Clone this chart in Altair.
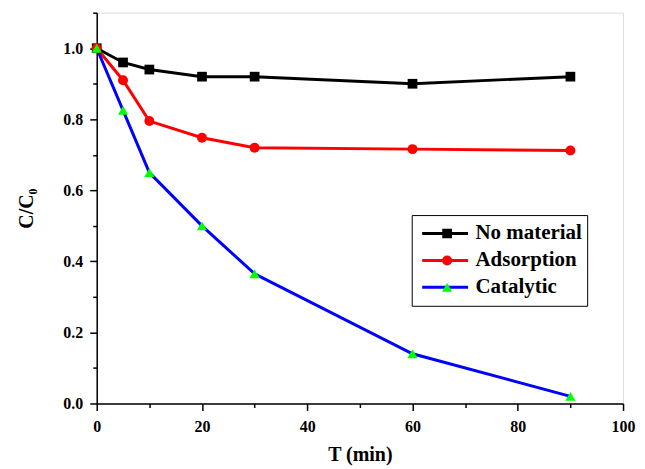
import altair as alt
import pandas as pd

time_min = [0, 5, 10, 20, 30, 60, 90]
no_material = [1.0, 0.96, 0.94, 0.92, 0.92, 0.90, 0.92]
adsorption = [1.0, 0.91, 0.795, 0.748, 0.72, 0.716, 0.712]
catalytic = [1.0, 0.825, 0.65, 0.50, 0.365, 0.14, 0.02]

series_names = ["No material", "Adsorption", "Catalytic"]
line_colors = ["#000000", "#ff0000", "#0000ff"]
marker_colors = ["#000000", "#ff0000", "#00ff00"]
marker_shapes = ["square", "circle", "triangle-up"]
marker_sizes = [95, 105, 185]

x_major = [0, 20, 40, 60, 80, 100]
x_minor = [10, 30, 50, 70, 90]
y_major = [0.0, 0.2, 0.4, 0.6, 0.8, 1.0]
y_minor = [0.1, 0.3, 0.5, 0.7, 0.9, 1.1]

# marker series keys are distinct from line keys so the two legends stay separate
marker_keys = [n + " " for n in series_names]

rows = []
for name, key, vals in zip(series_names, marker_keys, [no_material, adsorption, catalytic]):
    for t, c in zip(time_min, vals):
        rows.append({"T": t, "C": c, "series": name, "series_m": key})
df = pd.DataFrame(rows)

FONT = "Liberation Serif, Times New Roman, serif"

x_scale = alt.Scale(domain=[0, 100], nice=False, zero=False)
y_scale = alt.Scale(domain=[0, 1.1], nice=False, zero=False)

axis_common = dict(
    grid=False, domainColor="black", domainWidth=1.5, tickColor="black",
    tickWidth=1.5, labelFont=FONT, labelFontSize=16, labelFontWeight="bold",
    labelColor="black", titleFont=FONT, titleFontSize=20, titleFontWeight="bold",
    titleColor="black", labelFlush=False, labelOverlap=False,
)

x_major_axis = alt.Axis(values=x_major, format="d", tickSize=7, labelPadding=8,
                        title="T (min)", titlePadding=10, orient="bottom", **axis_common)
y_major_axis = alt.Axis(values=y_major, format=".1f", tickSize=7, labelPadding=7,
                        title="C/C₀", titlePadding=26, orient="left", **axis_common)
x_minor_axis = alt.Axis(values=x_minor, tickSize=4, labels=False, domain=False,
                        title=None, orient="bottom", grid=False, tickColor="black", tickWidth=1.5)
y_minor_axis = alt.Axis(values=y_minor, tickSize=4, labels=False, domain=False,
                        title=None, orient="left", grid=False, tickColor="black", tickWidth=1.5)

legend_common = dict(
    title=None, orient="none", legendY=203, labelFont=FONT, labelFontSize=21,
    labelFontWeight="bold", padding=5, clipHeight=27, rowPadding=0,
)

lines = alt.Chart(df).mark_line(strokeWidth=3).encode(
    x=alt.X("T:Q", scale=x_scale, axis=x_major_axis),
    y=alt.Y("C:Q", scale=y_scale, axis=y_major_axis),
    color=alt.Color(
        "series:N", sort=series_names,
        scale=alt.Scale(domain=series_names, range=line_colors),
        legend=alt.Legend(
            legendX=316, symbolType="stroke", symbolSize=2116, symbolStrokeWidth=3,
            labelColor="black", labelOffset=6, strokeColor="black", symbolOffset=4,
            fillColor="white", **legend_common,
        ),
    ),
)

marker_legend = alt.Legend(
    legendX=336, labelExpr="''", symbolStrokeWidth=0, **legend_common,
)

points = alt.Chart(df).mark_point(filled=True, opacity=1).encode(
    x=alt.X("T:Q", scale=x_scale, axis=x_minor_axis),
    y=alt.Y("C:Q", scale=y_scale, axis=y_minor_axis),
    fill=alt.Fill(
        "series_m:N", sort=marker_keys,
        scale=alt.Scale(domain=marker_keys, range=marker_colors),
        legend=marker_legend,
    ),
    shape=alt.Shape(
        "series_m:N", sort=marker_keys,
        scale=alt.Scale(domain=marker_keys, range=marker_shapes),
        legend=marker_legend,
    ),
    size=alt.Size(
        "series_m:N", sort=marker_keys,
        scale=alt.Scale(domain=marker_keys, range=marker_sizes),
        legend=marker_legend,
    ),
)

chart = alt.layer(lines, points).resolve_axis(x="independent", y="independent").properties(
    width=528, height=392,
    padding={"left": 89, "top": 4, "right": 14, "bottom": 65},
    autosize=alt.AutoSizeParams(type="none"),
).configure_view(strokeWidth=0).configure(background="white")

chart.save("out.html", embed_options={"renderer": "svg", "actions": False})
